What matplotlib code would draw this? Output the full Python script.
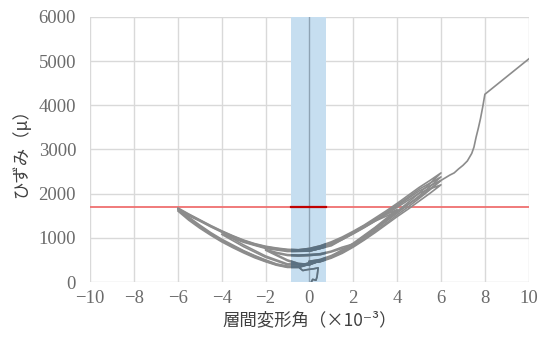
import matplotlib
matplotlib.use("Agg")
import matplotlib.pyplot as plt
from matplotlib.patches import Rectangle

plt.rcParams['font.family'] = ['Noto Sans CJK JP', 'DejaVu Sans']

# sample positions of the hysteresis branches (drift angle x10^-3)
pos_x = [0, 0.5, 1, 1.5, 2, 2.5, 3, 3.5, 4, 4.5, 5, 5.5, 6]
neg_x = [0, -0.5, -1, -1.5, -2, -2.5, -3, -3.5, -4, -4.5, -5, -5.5, -6]

# initial hook near zero
init_x = [0.1, 0.15, 0.3, 0.35, 0.4, 0.2, -0.1, -0.3, -0.45, -0.3, 0.0]
init_y = [10, 60, 40, 120, 320, 300, 280, 260, 320, 400, 430]

# small cycles to +/-2
c2a_x = [0.0, 0.5, 1.0, 1.5, 2.0, 1.5, 1.0, 0.5, 0.0, -0.5, -1.0, -1.5, -2.0, -1.5, -1.0, -0.5, 0.0]
c2a_y = [430, 470, 560, 680, 830, 760, 680, 620, 600, 590, 600, 650, 720, 600, 480, 400, 390]
c2b_x = [0.0, 0.5, 1.0, 1.5, 2.0, 1.5, 1.0, 0.5, 0.0, -0.5, -1.0, -1.5, -2.0, -1.5, -1.0, -0.5, 0.0]
c2b_y = [390, 480, 580, 700, 860, 790, 700, 640, 620, 610, 620, 670, 740, 620, 500, 420, 400]

# cycles to +/-4
c4a_x = [0.0, 1.0, 2.0, 3.0, 4.0, 3.0, 2.0, 1.0, 0.0, -1.0, -2.0, -3.0, -4.0, -3.0, -2.0, -1.0, 0.0]
c4a_y = [400, 560, 860, 1220, 1600, 1380, 1100, 820, 700, 690, 760, 900, 1080, 800, 560, 390, 400]
c4b_x = [0.0, 1.0, 2.0, 3.0, 4.0, 3.0, 2.0, 1.0, 0.0, -1.0, -2.0, -3.0, -4.0, -3.0, -2.0, -1.0, 0.0]
c4b_y = [400, 580, 880, 1240, 1640, 1420, 1130, 850, 720, 710, 780, 920, 1120, 840, 590, 410, 410]

# cycles to +/-6: loading / unloading branches on pos_x and neg_x
c6_pos_load = [
    [440, 460, 540, 650, 790, 950, 1120, 1300, 1480, 1650, 1830, 2010, 2200],
    [450, 470, 560, 670, 810, 970, 1150, 1330, 1520, 1700, 1890, 2090, 2300],
    [460, 490, 580, 700, 840, 1000, 1180, 1370, 1560, 1750, 1950, 2160, 2380],
    [470, 510, 600, 720, 860, 1030, 1210, 1400, 1600, 1800, 2010, 2230, 2470],
]
c6_pos_unload = [
    [700, 760, 850, 960, 1090, 1230, 1380, 1530, 1690, 1850, 2010, 2110, 2200],
    [720, 780, 870, 980, 1110, 1250, 1400, 1560, 1720, 1890, 2060, 2180, 2300],
    [740, 800, 890, 1000, 1130, 1270, 1420, 1580, 1750, 1920, 2100, 2240, 2380],
    [760, 820, 910, 1020, 1150, 1290, 1450, 1610, 1780, 1960, 2140, 2300, 2470],
]
c6_neg_load = [
    [700, 700, 710, 740, 780, 840, 920, 1020, 1130, 1250, 1380, 1500, 1610],
    [720, 710, 720, 750, 790, 850, 930, 1030, 1140, 1260, 1390, 1520, 1640],
    [740, 720, 730, 760, 800, 860, 940, 1040, 1150, 1270, 1400, 1530, 1660],
    [760, 730, 740, 770, 810, 870, 950, 1050, 1160, 1280, 1410, 1540, 1680],
]
c6_neg_unload = [
    [400, 330, 330, 380, 460, 550, 660, 780, 910, 1060, 1220, 1400, 1610],
    [410, 340, 340, 390, 470, 570, 680, 800, 930, 1080, 1250, 1430, 1640],
    [420, 350, 350, 400, 490, 590, 700, 820, 950, 1100, 1270, 1450, 1660],
    [430, 360, 360, 410, 500, 600, 710, 840, 970, 1120, 1290, 1470, 1680],
]

# final push to +10
fin_x = [0.0, 0.5, 1.0, 2.0, 3.0, 4.0, 5.0, 6.0, 6.2, 6.4, 6.6, 6.8, 7.0, 7.2, 7.4, 7.5, 7.6, 7.7, 7.8, 7.9,
         8.0, 10.0]
fin_y = [440, 470, 560, 850, 1210, 1600, 1920, 2300, 2360, 2420, 2470, 2560, 2640, 2740, 2910, 3050, 3280,
         3480, 3700, 3960, 4250, 5050]

limit_y = 1700
band = (-0.82, 0.75)

series = [(init_x, init_y), (c2a_x, c2a_y), (c2b_x, c2b_y), (c4a_x, c4a_y), (c4b_x, c4b_y)]
for pl, pu, nl, nu in zip(c6_pos_load, c6_pos_unload, c6_neg_load, c6_neg_unload):
    xs = pos_x + pos_x[::-1] + neg_x + neg_x[::-1]
    ys = pl + pu[::-1] + nl + nu[::-1]
    series.append((xs, ys))
series.append((fin_x, fin_y))

fig = plt.figure(figsize=(5.39, 3.42), dpi=100)
ax = fig.add_axes([0.167, 0.1754, 0.814, 0.775])

ax.set_xlim(-10, 10)
ax.set_ylim(0, 6000)
ax.set_xticks(range(-10, 11, 2))
ax.set_yticks(range(0, 6001, 1000))
ax.set_xticklabels([str(v).replace('-', '\u2212') for v in range(-10, 11, 2)])
ax.grid(True, color='#d9d9d9', linewidth=1.0, zorder=0)
ax.set_axisbelow(True)
for s in ax.spines.values():
    s.set_visible(False)
ax.tick_params(length=0, colors='#6b6b6b', labelsize=13.5)
ax.tick_params(axis='y', pad=10)
ax.tick_params(axis='x', pad=6)
for lab in ax.get_xticklabels() + ax.get_yticklabels():
    lab.set_family(['Liberation Serif', 'DejaVu Serif'])

# blue band
ax.add_patch(Rectangle((band[0], 0), band[1] - band[0], 6000, facecolor='#c6def0',
                       edgecolor='none', zorder=1))
clip = Rectangle((band[0], 0), band[1] - band[0], 6000, transform=ax.transData)

# red limit line
ax.axhline(limit_y, color='#ef7070', linewidth=1.3, zorder=3)
ax.plot(band, [limit_y, limit_y], color='#c00000', linewidth=1.6, zorder=4)

# vertical axis at x=0
ax.axvline(0, color='#8ea3b4', linewidth=1.0, zorder=2)

for x, y in series:
    ax.plot(x, y, color='#8c8c8c', linewidth=1.2, zorder=5, solid_joinstyle='round')
    dk, = ax.plot(x, y, color='#5b7182', linewidth=1.2, zorder=6, solid_joinstyle='round')
    dk.set_clip_path(clip)

ax.set_xlabel('層間変形角（×10⁻³）', fontsize=12.5, color='#404040', labelpad=3)
ax.set_ylabel('ひずみ（μ）', fontsize=12.5, color='#404040', labelpad=6)

fig.savefig('out.png', dpi=100)
